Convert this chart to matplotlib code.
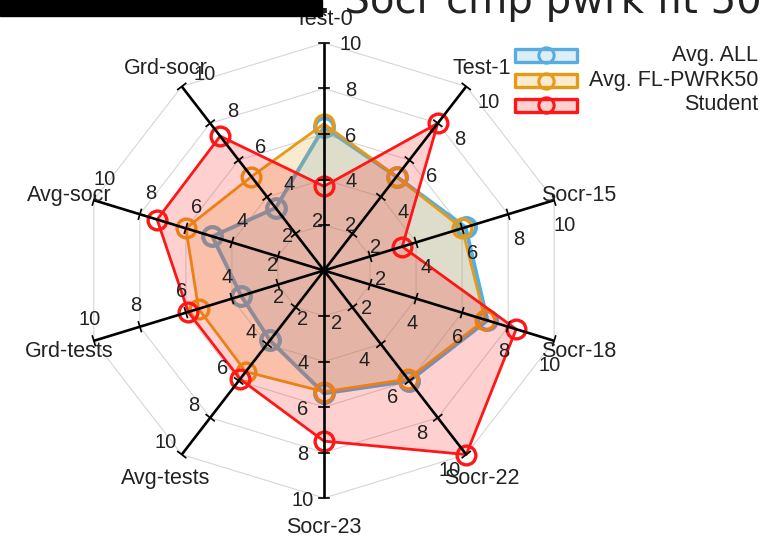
import numpy as np
import matplotlib
matplotlib.use('Agg')
import matplotlib.pyplot as plt
from matplotlib.patches import Rectangle
from matplotlib.lines import Line2D

# ---------------- data ----------------
categories = ['Test-0', 'Test-1', 'Socr-15', 'Socr-18', 'Socr-22', 'Socr-23',
              'Avg-tests', 'Grd-tests', 'Avg-socr', 'Grd-socr']
series_names = ['Avg. ALL', 'Avg. FL-PWRK50', 'Student']
avg_all = [6.3, 5.1, 6.15, 7.1, 6.0, 5.4, 3.8, 3.6, 4.85, 3.4]
avg_fl = [6.45, 5.1, 6.0, 7.0, 5.9, 5.33, 5.5, 5.45, 6.0, 5.1]
student = [3.7, 8.0, 3.4, 8.35, 10.0, 7.5, 5.9, 5.9, 7.25, 7.3]
ring_ticks = [2, 4, 6, 8, 10]
title = 'Student name: Socr cmp pwrk fit 50'

# ---------------- style ----------------
W, H = 777, 536
colors = ['#58ADE0', '#E59B17', '#FF1616']
line_w = [2.8, 2.0, 2.0]
mark_w = [3.0, 2.4, 2.4]
label_font = 'Liberation Sans'
txt_color = '#222222'

fig = plt.figure(figsize=(W / 100, H / 100), dpi=100)
ax = fig.add_axes([0, 0, 1, 1])
xmin, xmax = -13.388, 18.719
ymin, ymax = -11.67, 11.89
ax.set_xlim(xmin, xmax)
ax.set_ylim(ymin, ymax)
ax.axis('off')
sx = W / (xmax - xmin)   # pixels per data unit
sy = H / (ymax - ymin)

n = len(categories)
theta = np.deg2rad(np.arange(n) * 360.0 / n)


def xy(vals):
    v = np.asarray(vals, dtype=float)
    return v * np.sin(theta), v * np.cos(theta)


# grid rings (polygons)
for t in ring_ticks:
    gx, gy = xy([t] * n)
    ax.plot(np.append(gx, gx[0]), np.append(gy, gy[0]), color='#d6d6d6', lw=0.8, zorder=1)

# series
for i, (vals, c) in enumerate(zip([avg_all, avg_fl, student], colors)):
    px_, py_ = xy(vals)
    cx, cy = np.append(px_, px_[0]), np.append(py_, py_[0])
    ax.fill(cx, cy, color=c, alpha=0.2, lw=0, zorder=2 + 2 * i)
    ax.plot(cx, cy, color=c, lw=line_w[i], zorder=3 + 2 * i)
    ax.plot(px_, py_, 'o', ms=13.5, mfc='none', mec=c, mew=mark_w[i], zorder=3 + 2 * i)

# radial axes with ticks
for k in range(n):
    th = theta[k]
    ex, ey = 10 * np.sin(th), 10 * np.cos(th)
    ax.plot([0, ex], [0, ey], color='black', lw=1.9, zorder=10, solid_capstyle='butt')
    # screen direction (y up) of axis
    d = np.array([np.sin(th) * sx, np.cos(th) * sy])
    d = d / np.linalg.norm(d)
    perp = np.array([d[1], -d[0]])  # clockwise perpendicular (screen)
    for t in ring_ticks:
        tx, ty = t * np.sin(th), t * np.cos(th)
        hx, hy = 5 * perp[0] / sx, 5 * perp[1] / sy
        ax.plot([tx - hx, tx + hx], [ty - hy, ty + hy], color='black', lw=1.2, zorder=10)
        tdeg = np.rad2deg(th)
        if t == ring_ticks[0]:
            phi = np.deg2rad(tdeg - 150)
            dx, dyd = 10.8 * np.cos(phi) + 3, 10.8 * np.sin(phi) + 2
        else:
            dx, dyd = 24 * np.cos(th) + 3, 24 * np.sin(th) + 2
        ax.annotate(str(t), (tx, ty), xytext=(dx, -dyd), textcoords='offset pixels',
                    ha='center', va='center', fontsize=14.5, family=label_font,
                    color=txt_color, zorder=11)
    # category label
    ax.annotate(categories[k], (ex, ey), xytext=(26 * d[0], 26 * d[1] - 3),
                textcoords='offset pixels', ha='center', va='center',
                fontsize=15.5, family=label_font, color=txt_color, zorder=11)

# legend (manual)
leg_rows = [55, 80.5, 105]
for i, (name, c) in enumerate(zip(series_names, colors)):
    yc = 1 - leg_rows[i] / H
    rect = Rectangle((515 / W, yc - 6.5 / H), 62 / W, 13 / H, transform=fig.transFigure,
                     facecolor=matplotlib.colors.to_rgba(c, 0.2), edgecolor=c,
                     lw=2.4, joinstyle='round')
    fig.add_artist(rect)
    fig.add_artist(Line2D([546 / W], [yc], marker='o', ms=11, mfc='none', mec=c,
                          mew=2.2, transform=fig.transFigure))
    fig.text(758 / W, yc, name, ha='right', va='center', fontsize=15.5,
             family=label_font, color=txt_color)

# title (partially covered)
fig.text(762 / W, 1 - 13 / H, title, ha='right', va='baseline', fontsize=29,
         family='DejaVu Sans', color=txt_color)
fig.add_artist(Rectangle((0, 1 - 15.7 / H), 322 / W, 15.7 / H, transform=fig.transFigure,
                         color='black', zorder=100))

fig.savefig('out.png', dpi=100)
